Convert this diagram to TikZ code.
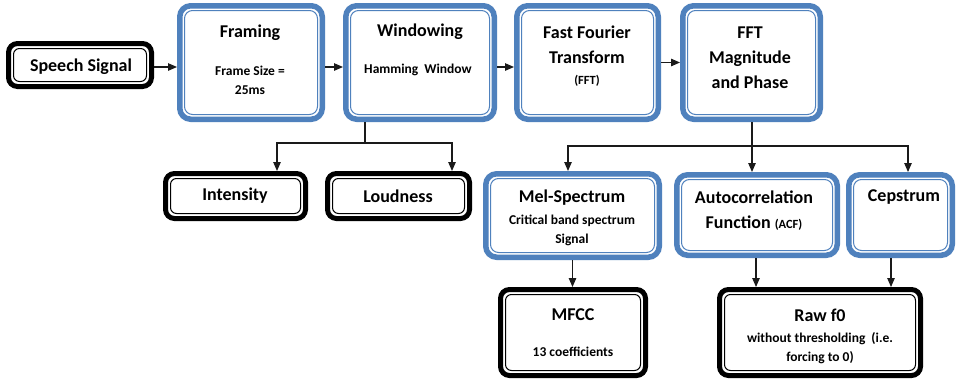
\documentclass[tikz,border=0pt]{standalone}
\usepackage{fontspec}
\setmainfont{Carlito}
\usetikzlibrary{arrows.meta,calc}
\definecolor{bblue}{HTML}{4F81BD}
\definecolor{lgray}{HTML}{1A1A1A}
\newcommand{\innerframe}[3]{\draw[#2, line width=1pt, rounded corners=#3] ($(#1.south west)+(7.5,-7.5)$) rectangle ($(#1.north east)+(-7.5,7.5)$);}
\tikzset{
  bluebox/.style={draw=bblue, line width=5.5pt, rounded corners=11pt, fill=white, inner sep=0pt},
  blackbox/.style={draw=black, line width=5pt, rounded corners=9pt, fill=white, inner sep=0pt},
  ttl/.style={font=\bfseries\fontsize{18}{25}\selectfont, align=center, inner sep=0pt},
  sub/.style={font=\bfseries\fontsize{13.5}{19}\selectfont, align=center, inner sep=0pt},
  arr/.style={draw=lgray, line width=1.1pt, -{Triangle[length=9pt,width=7.5pt]}},
  ln/.style={draw=lgray, line width=1.1pt}
}
\begin{document}
\begin{tikzpicture}[x=1pt,y=-1pt]
\useasboundingbox[fill=white] (0,0) rectangle (956,383);
% boxes
\node[blackbox, minimum width=143, minimum height=43] (speech) at (80,65) {};
\node[bluebox, minimum width=142.5, minimum height=113.5] (framing) at (251,62.5) {};
\node[bluebox, minimum width=148.5, minimum height=113.5] (windowing) at (420,62.5) {};
\node[bluebox, minimum width=141.5, minimum height=113.5] (fft) at (587.5,62.5) {};
\node[bluebox, minimum width=137.5, minimum height=113.5] (mag) at (751.5,62.5) {};
\node[blackbox, minimum width=140, minimum height=45] (intensity) at (235.5,196) {};
\node[blackbox, minimum width=142, minimum height=45] (loudness) at (398.5,196) {};
\node[bluebox, minimum width=173.5, minimum height=83.5] (mel) at (572.5,215.5) {};
\node[bluebox, minimum width=160.5, minimum height=80.5] (acf) at (757,215) {};
\node[bluebox, minimum width=103.5, minimum height=80.5] (cep) at (900.5,215) {};
\node[blackbox, minimum width=145, minimum height=86] (mfcc) at (573,332.5) {};
\node[blackbox, minimum width=201, minimum height=86] (raw) at (820,332.5) {};
% inner frames
\innerframe{speech}{black}{6pt}
\innerframe{intensity}{black}{6pt}
\innerframe{loudness}{black}{6pt}
\innerframe{mfcc}{black}{6pt}
\innerframe{raw}{black}{6pt}
\innerframe{framing}{bblue}{8pt}
\innerframe{windowing}{bblue}{8pt}
\innerframe{fft}{bblue}{8pt}
\innerframe{mag}{bblue}{8pt}
\innerframe{mel}{bblue}{8pt}
\innerframe{acf}{bblue}{8pt}
\innerframe{cep}{bblue}{8pt}
% texts
\node[ttl] (speechT) at (81,67) {Speech Signal};
\node[ttl] (framingT) at (250,33) {Framing};
\node[sub] (framingS) at (250,80) {Frame Size =\\25ms};
\node[ttl] (windowingT) at (420,32) {Windowing};
\node[sub] (windowingS) at (418,70) {Hamming\ \ Window};
\node[ttl] (fftT) at (587,45) {Fast Fourier\\Transform};
\node[sub, font=\bfseries\fontsize{12.5}{16}\selectfont] (fftS) at (587,81) {(FFT)};
\node[ttl] (magT) at (750,58) {FFT\\Magnitude\\and Phase};
\node[ttl] (intensityT) at (235,196) {Intensity};
\node[ttl] (loudnessT) at (398,196) {Loudness};
\node[ttl] (melT) at (572,198) {Mel-Spectrum};
\node[sub] (melS) at (572,230) {Critical band spectrum\\Signal};
\node[ttl] (acfT) at (754,211) {Autocorrelation\\Function {\fontsize{12.5}{16}\selectfont(ACF)}};
\node[ttl] (cepT) at (904,197) {Cepstrum};
\node[ttl] (mfccT) at (573,315) {MFCC};
\node[sub] (mfccS) at (573,352) {13 coefficients};
\node[ttl] (rawT) at (820,315) {Raw f0};
\node[sub] (rawS) at (820,348) {without thresholding\ \ (i.e.\\forcing to 0)};
% connectors
\draw[arr] ([yshift=-2pt]speech.east) -- ([yshift=-2pt]speech.east -| framing.west);
\draw[arr] ([yshift=-4.5pt]framing.east) -- ([yshift=-4.5pt]framing.east -| windowing.west);
\draw[arr] ([yshift=-4.5pt]windowing.east) -- ([yshift=-4.5pt]windowing.east -| fft.west);
\draw[arr] (fft.east) -- (mag.west);
\coordinate (wj) at (365,143);
\draw[ln] (wj |- windowing.south) -- (wj);
\draw[arr] (wj) -| ([xshift=41.5pt]intensity.north);
\draw[arr] (wj) -| ([xshift=53.5pt]loudness.north);
\coordinate (mj) at (752,146);
\draw[ln] (mj |- mag.south) -- (mj);
\draw[arr] (mj) -| ([xshift=-4.5pt]mel.north);
\draw[arr] (mj) -| ([xshift=-5pt]acf.north);
\draw[arr] (mj) -| ([xshift=7.5pt]cep.north);
\draw[arr] (mel.south) -- (mel.south |- mfcc.north);
\draw[arr] ([xshift=-1pt]acf.south) -- ([xshift=-1pt]acf.south |- raw.north);
\draw[arr] ([xshift=-9.5pt]cep.south) -- ([xshift=-9.5pt]cep.south |- raw.north);
\end{tikzpicture}
\end{document}
